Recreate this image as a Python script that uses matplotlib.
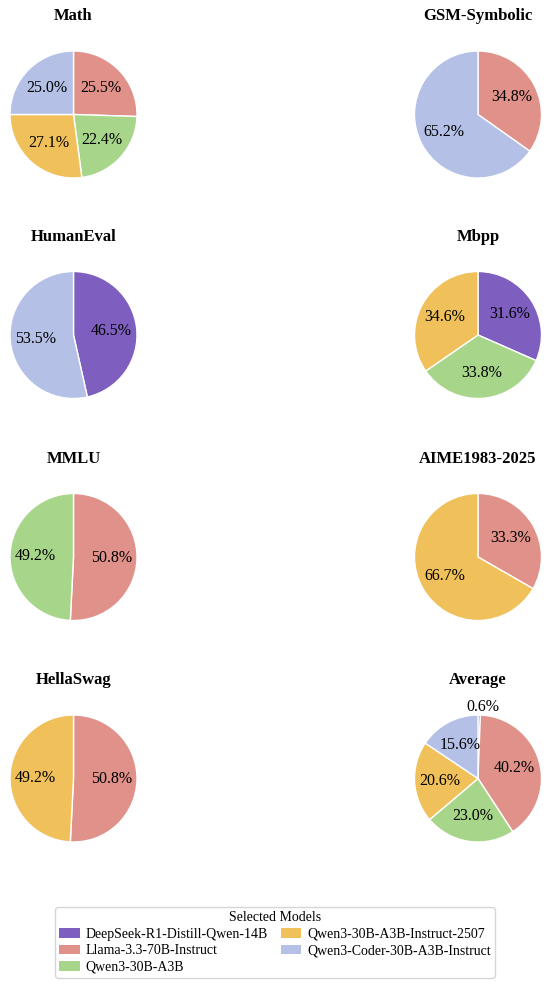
import numpy as np
import matplotlib
matplotlib.use('Agg')
from matplotlib import pyplot as plt
from matplotlib.patches import Patch

plt.rcParams['font.family'] = ['Liberation Serif', 'DejaVu Serif']

models = ['DeepSeek-R1-Distill-Qwen-14B', 'Llama-3.3-70B-Instruct', 'Qwen3-30B-A3B',
          'Qwen3-30B-A3B-Instruct-2507', 'Qwen3-Coder-30B-A3B-Instruct']
colors = ['#7e5fbf', '#e0918a', '#a7d68a', '#f0c05a', '#b4c0e6']

benchmarks = ['Math', 'GSM-Symbolic', 'HumanEval', 'Mbpp',
              'MMLU', 'AIME1983-2025', 'HellaSwag', 'Average']

# share (%) of queries routed to each model, per benchmark
deepseek = [0.0, 0.0, 46.5, 31.6, 0.0, 0.0, 0.0, 0.6]
llama    = [25.5, 34.8, 0.0, 0.0, 50.8, 33.3, 50.8, 40.2]
qwen3    = [22.4, 0.0, 0.0, 33.8, 49.2, 0.0, 0.0, 23.0]
instruct = [27.1, 0.0, 0.0, 34.6, 0.0, 66.7, 49.2, 20.6]
coder    = [25.0, 65.2, 53.5, 0.0, 0.0, 0.0, 0.0, 15.6]

shares = np.array([deepseek, llama, qwen3, instruct, coder])

W, H = 550, 984
fig = plt.figure(figsize=(W / 100, H / 100), dpi=100)

r = 63.5
col_x = [73.5, 478]
row_y = [114.5, 335, 557, 778.5]

for i, name in enumerate(benchmarks):
    cx = col_x[i % 2]
    cy = row_y[i // 2]
    ax = fig.add_axes([(cx - r) / W, 1 - (cy + r) / H, 2 * r / W, 2 * r / H])
    vals = shares[:, i]
    keep = vals > 0
    wedges, texts, autotexts = ax.pie(
        vals[keep], colors=[c for c, k in zip(colors, keep) if k],
        startangle=90, counterclock=False, autopct='%1.1f%%', pctdistance=0.6,
        wedgeprops=dict(edgecolor='white', linewidth=1),
        textprops=dict(fontsize=11.5, color='black'))
    for w, t, v in zip(wedges, autotexts, vals[keep]):
        if v < 3:
            ang = np.deg2rad((w.theta1 + w.theta2) / 2)
            t.set_position((1.12 * np.cos(ang) + 0.06, 1.12 * np.sin(ang)))
    ax.set_xlim(-1, 1)
    ax.set_ylim(-1, 1)
    ax.set_aspect('equal')
    ax.set_title(name, fontsize=12, fontweight='bold', pad=22)

handles = [Patch(facecolor=c) for c in colors]
fig.legend(handles, models, loc='lower center', ncol=2, title='Selected Models',
           bbox_to_anchor=(0.5, 6 / H), borderaxespad=0, fontsize=10,
           title_fontsize=10, handlelength=1.5, handleheight=0.7,
           handletextpad=0.4, labelspacing=0.25, columnspacing=0.9,
           borderpad=0.3)

fig.savefig('out.png', dpi=100)
